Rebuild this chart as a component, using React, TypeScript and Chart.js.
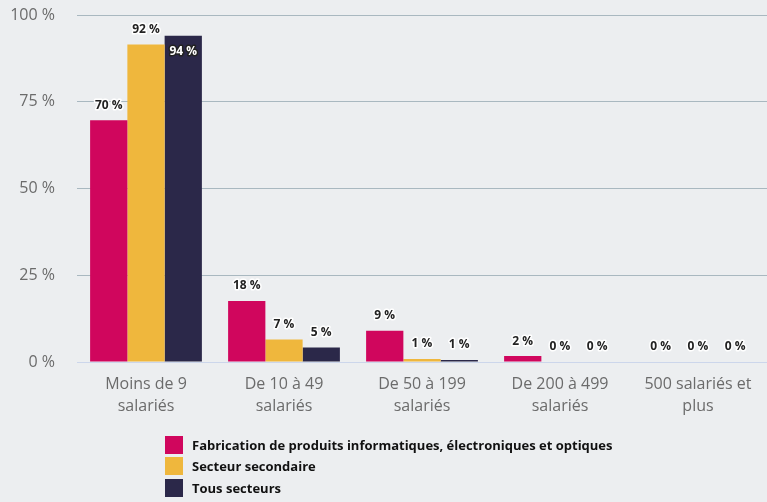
import React, { useEffect, useRef } from "react";
import { Chart, registerables } from "chart.js";

Chart.register(...registerables);

const categories: string[][] = [
  ["Moins de 9", "salariés"],
  ["De 10 à 49", "salariés"],
  ["De 50 à 199", "salariés"],
  ["De 200 à 499", "salariés"],
  ["500 salariés et", "plus"],
];
const seriesNames = [
  "Fabrication de produits informatiques, électroniques et optiques",
  "Secteur secondaire",
  "Tous secteurs",
];
const fabrication = [69.7, 17.6, 9.0, 1.7, 0];
const secondaire = [91.5, 6.5, 0.9, 0, 0];
const tousSecteurs = [94.0, 4.2, 0.6, 0, 0];
const labelsFabrication = ["70 %", "18 %", "9 %", "2 %", "0 %"];
const labelsSecondaire = ["92 %", "7 %", "1 %", "0 %", "0 %"];
const labelsTous = ["94 %", "5 %", "1 %", "0 %", "0 %"];
const yTicks = [0, 25, 50, 75, 100];
const colors = ["#d0065d", "#efb73d", "#2b2849"];

const FONT = "'Open Sans', sans-serif";

const dataLabelPlugin = {
  id: "dataLabels",
  afterDatasetsDraw(chart: any) {
    const ctx = chart.ctx;
    const allLabels = [labelsFabrication, labelsSecondaire, labelsTous];
    ctx.save();
    ctx.font = `bold 12px ${FONT}`;
    ctx.textAlign = "center";
    ctx.textBaseline = "middle";
    ctx.lineJoin = "round";
    chart.data.datasets.forEach((ds: any, di: number) => {
      const meta = chart.getDatasetMeta(di);
      meta.data.forEach((bar: any, i: number) => {
        const txt = allLabels[di][i];
        let y = bar.y - 15;
        let inside = false;
        if (y - 7 < chart.chartArea.top + 5) {
          y = bar.y + 16;
          inside = true;
        }
        ctx.lineWidth = 3;
        ctx.strokeStyle = inside ? "#222" : "#ffffff";
        ctx.strokeText(txt, bar.x, y);
        ctx.fillStyle = inside ? "#ffffff" : "#222";
        ctx.fillText(txt, bar.x, y);
      });
    });
    ctx.restore();
  },
};

export default function App() {
  const ref = useRef<HTMLCanvasElement>(null);
  useEffect(() => {
    document.body.style.margin = "0";
    const chart = new Chart(ref.current!, {
      type: "bar",
      data: {
        labels: categories,
        datasets: [
          { label: seriesNames[0], data: fabrication, backgroundColor: colors[0] },
          { label: seriesNames[1], data: secondaire, backgroundColor: colors[1] },
          { label: seriesNames[2], data: tousSecteurs, backgroundColor: colors[2] },
        ],
      },
      options: {
        animation: false,
        responsive: false,
        maintainAspectRatio: false,
        layout: { padding: { top: 15, right: 0, left: 0, bottom: 0 } },
        datasets: { bar: { categoryPercentage: 0.81, barPercentage: 1 } },
        plugins: { legend: { display: false }, tooltip: { enabled: false } },
        scales: {
          x: {
            grid: { display: false },
            border: { display: false },
            ticks: { color: "#6b6b6b", font: { family: FONT, size: 16, lineHeight: 1.34 }, padding: 4, maxRotation: 0 },
            afterFit(scale: any) {
              scale.height = 140;
            },
          },
          y: {
            min: 0,
            max: 100,
            afterBuildTicks(scale: any) {
              scale.ticks = yTicks.map((v) => ({ value: v }));
            },
            grid: {
              drawTicks: false,
              color: (c: any) => (c.tick && c.tick.value === 0 ? "#ccd6eb" : "#a9b8c0"),
              lineWidth: 1,
            },
            border: { display: false },
            ticks: {
              color: "#6b6b6b",
              font: { family: FONT, size: 16 },
              padding: 22,
              callback: (v: any) => `${v} %`,
            },
            afterFit(scale: any) {
              scale.width = 77;
              scale.paddingTop = 0;
              scale.paddingBottom = 0;
            },
          },
        },
      },
      plugins: [dataLabelPlugin],
    });
    return () => chart.destroy();
  }, []);
  return (
    <div style={{ position: "relative", width: 767, height: 502, background: "#eceef0", overflow: "hidden" }}>
      <canvas ref={ref} width={767} height={502} style={{ position: "absolute", left: 0, top: 0 }} />
      <div style={{ position: "absolute", left: 165, top: 434, fontFamily: FONT, fontWeight: "bold", fontSize: 13, color: "#111" }}>
        {seriesNames.map((n, i) => (
          <div key={n} style={{ display: "flex", alignItems: "center", height: 21.5 }}>
            <span style={{ display: "inline-block", width: 18, height: 18, background: colors[i], marginRight: 9 }} />
            <span>{n}</span>
          </div>
        ))}
      </div>
    </div>
  );
}
